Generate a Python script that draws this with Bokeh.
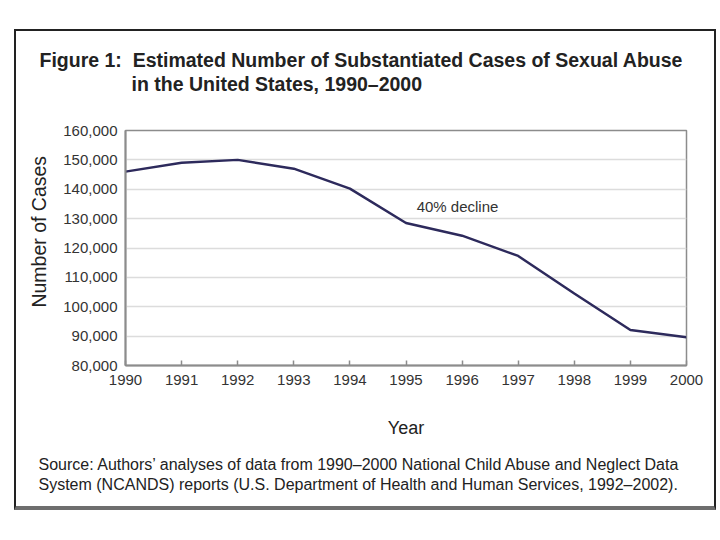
from bokeh.plotting import figure
from bokeh.models import Range1d, Label, Title, NumeralTickFormatter, FixedTicker
from bokeh.embed import file_html
from bokeh.resources import INLINE

years = [1990, 1991, 1992, 1993, 1994, 1995, 1996, 1997, 1998, 1999, 2000]
cases = [146000, 149000, 150000, 147000, 140200, 128500, 124200, 117300, 104500, 92100, 89600]
y_ticks = [80000, 90000, 100000, 110000, 120000, 130000, 140000, 150000, 160000]

title_text = ("Figure 1:\u00a0\u00a0Estimated Number of Substantiated Cases of Sexual Abuse\n"
              + "\u00a0" * 17 + "in the United States, 1990\u20132000\n\u00a0")
note_text = "40% decline"
source_text = ("Source: Authors\u2019 analyses of data from 1990\u20132000 National Child Abuse and Neglect Data\n"
               "System (NCANDS) reports (U.S. Department of Health and Human Services, 1992\u20132002).")
y_label = "\u00a0" * 6 + "Number of Cases"

FONT = "Liberation Sans"

p = figure(width=702, height=481, output_backend="svg", toolbar_location=None,
           x_range=Range1d(1990, 2000), y_range=Range1d(80000, 160000),
           min_border_left=109, min_border_right=32, min_border_top=99, min_border_bottom=147)
p.margin = (29, 0, 0, 14)
p.styles = {"border-top": "2px solid #222222", "border-left": "2px solid #222222",
            "border-right": "2px solid #222222", "border-bottom": "4px solid #6e6e6e"}
p.background_fill_color = "white"
p.border_fill_color = "white"
p.outline_line_color = "#8c8c8c"
p.outline_line_width = 1.5

p.xaxis.ticker = FixedTicker(ticks=years)
p.yaxis.ticker = FixedTicker(ticks=y_ticks)
p.yaxis.formatter = NumeralTickFormatter(format="0,0")

for ax in (p.xaxis, p.yaxis):
    ax.axis_line_color = "#8c8c8c"
    ax.axis_line_width = 2
    ax.major_label_text_font = FONT
    ax.major_label_text_font_size = "15px"
    ax.major_label_text_color = "#333333"
    ax.axis_label_text_font = FONT
    ax.axis_label_text_font_style = "normal"
    ax.axis_label_text_color = "#222222"
    ax.minor_tick_line_color = None

p.xaxis.axis_label_text_font_size = "18px"
p.yaxis.axis_label_text_font_size = "19.5px"

p.xaxis.major_tick_in = 5
p.xaxis.major_tick_out = 0
p.xaxis.major_tick_line_color = "#8c8c8c"
p.xaxis.major_tick_line_width = 1.5
p.xaxis.major_label_standoff = 9
p.xaxis.axis_label = "Year"
p.xaxis.axis_label_standoff = 30

p.yaxis.major_tick_line_color = None
p.yaxis.major_tick_in = 0
p.yaxis.major_tick_out = 0
p.yaxis.major_label_standoff = 8
p.yaxis.axis_label = y_label
p.yaxis.axis_label_standoff = 10

p.xgrid.grid_line_color = None
p.ygrid.grid_line_color = "#dcdcdc"
p.ygrid.grid_line_width = 1.5

p.line(years, cases, line_color="#2d2a5c", line_width=2.5)

p.add_layout(Label(x=1995.19, y=134100, text=note_text, text_font=FONT,
                   text_font_size="15px", text_color="#333333", text_baseline="middle"))

p.add_layout(Title(text=title_text, align="left", offset=-86, standoff=23,
                   text_font=FONT, text_font_size="19.5px", text_font_style="bold",
                   text_color="#222222", text_line_height=1.08), "above")
p.add_layout(Title(text=source_text, align="left", offset=-87, standoff=27,
                   text_font=FONT, text_font_size="16px", text_font_style="normal",
                   text_color="#222222", text_line_height=1.2), "below")

open("out.html", "w").write(file_html(p, INLINE))
